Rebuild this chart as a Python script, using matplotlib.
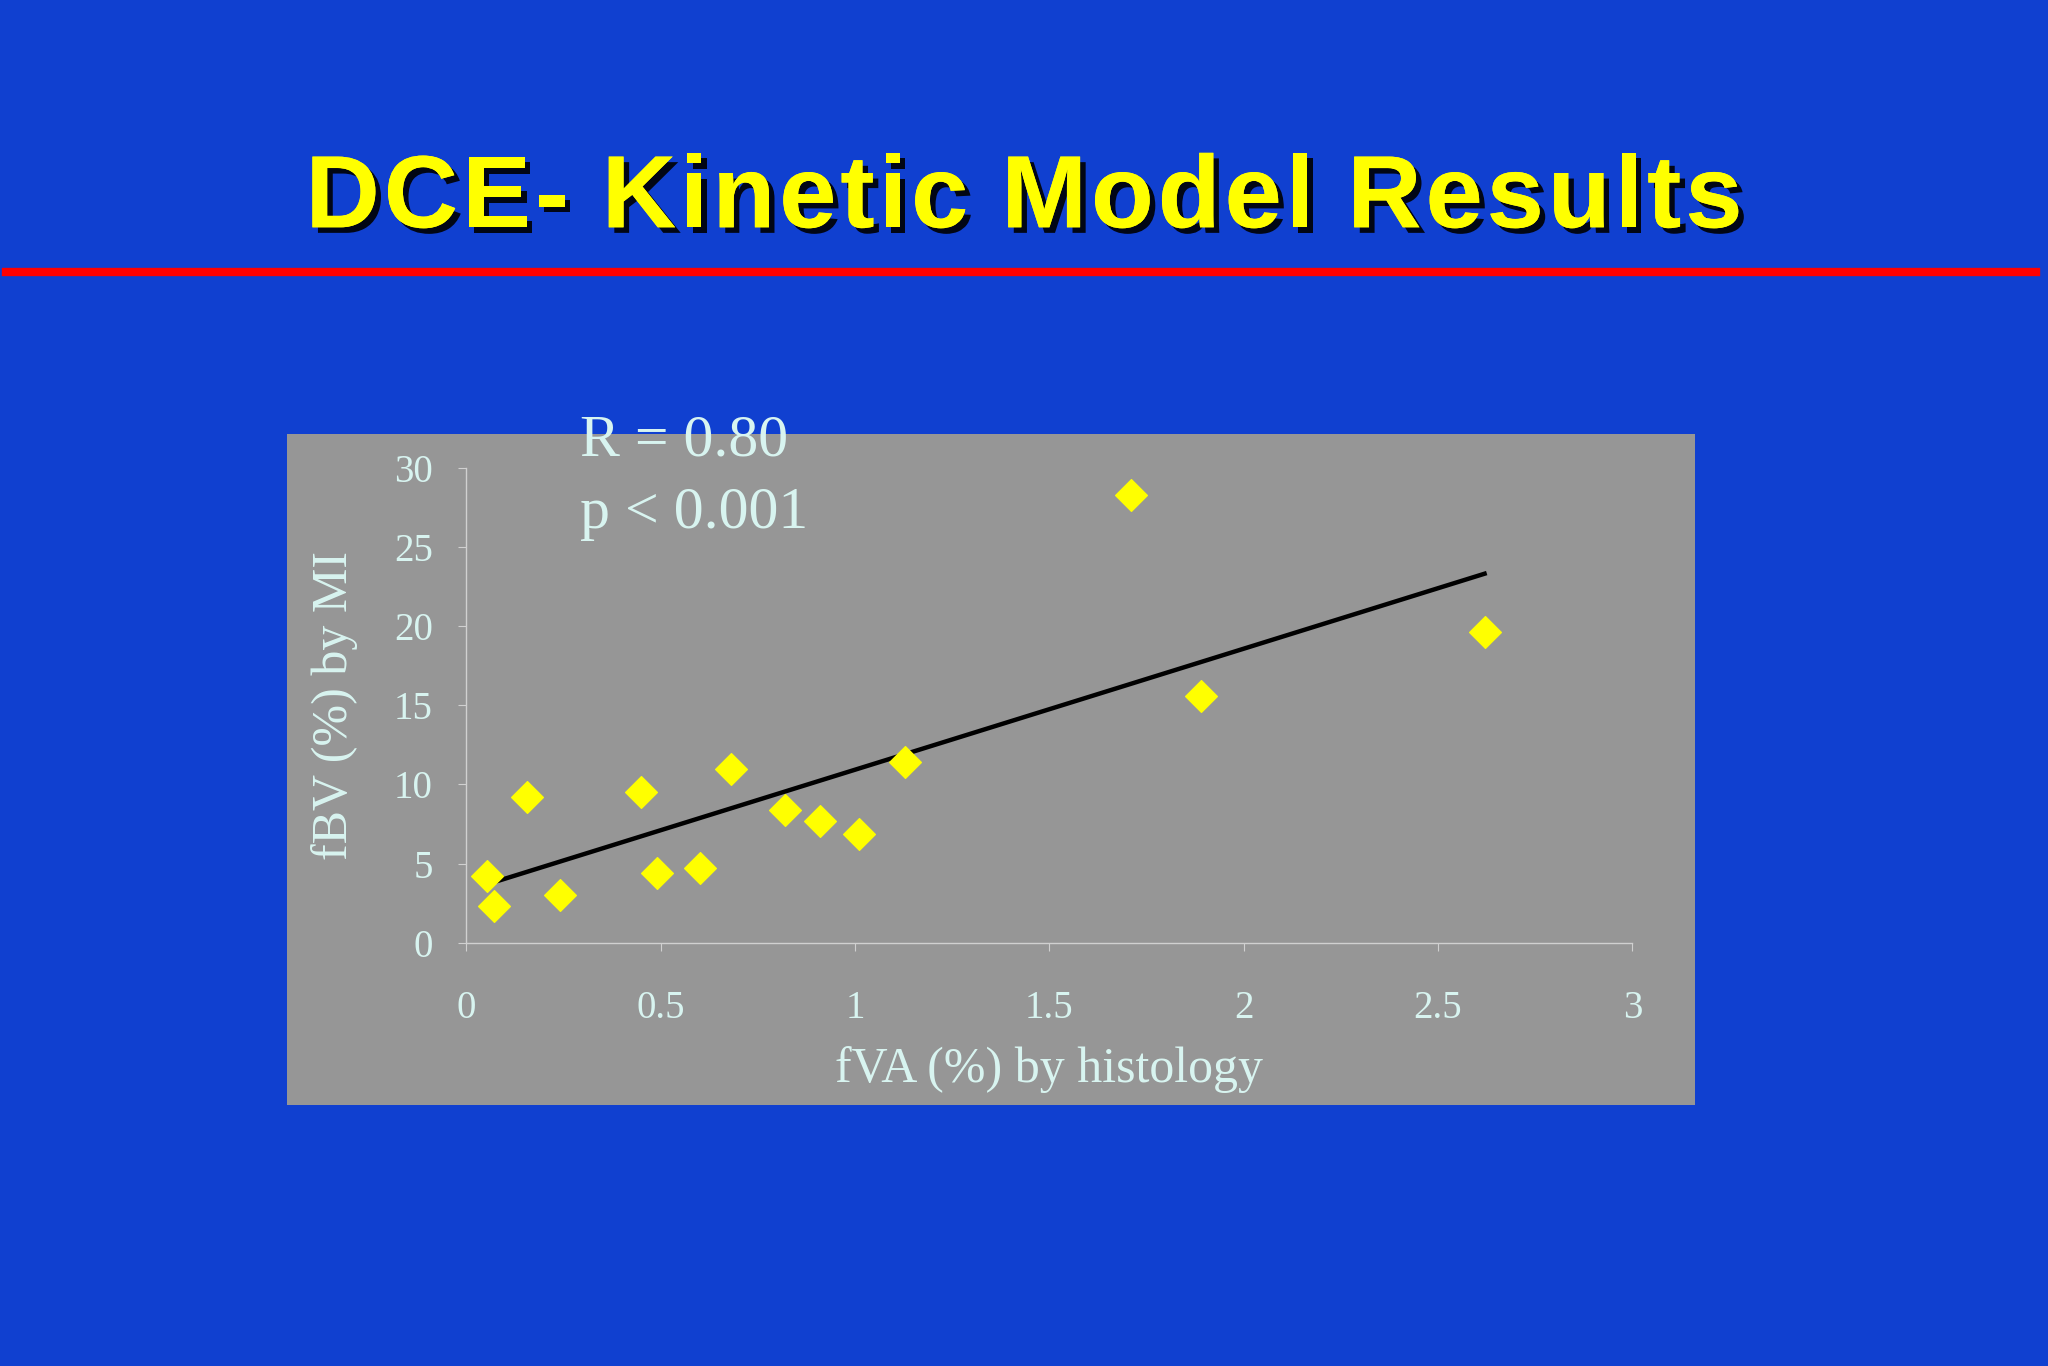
import matplotlib
matplotlib.use("Agg")
import matplotlib.pyplot as plt
import matplotlib.patheffects as pe
from matplotlib.patches import Rectangle

x_vals = [0.054, 0.07, 0.155, 0.24, 0.45, 0.49, 0.60, 0.68, 0.82, 0.91, 1.01, 1.13, 1.71, 1.89, 2.62]
y_vals = [4.2, 2.3, 9.2, 3.0, 9.5, 4.4, 4.7, 11.0, 8.4, 7.7, 6.9, 11.4, 28.3, 15.6, 19.6]
trend_x = [0.054, 2.62]
trend_y = [3.7, 23.3]
xticks = [0, 0.5, 1, 1.5, 2, 2.5, 3]
xtick_labels = ["0", "0.5", "1", "1.5", "2", "2.5", "3"]
yticks = [0, 5, 10, 15, 20, 25, 30]
title = "DCE- Kinetic Model Results"

BG = "#1040d0"
TXT = "#d8f4f0"
serif = ["Liberation Serif", "DejaVu Serif"]

fig = plt.figure(figsize=(20.48, 13.66), dpi=100, facecolor=BG)
renderer = fig.canvas.get_renderer()

tkw = dict(fontsize=74, fontweight="bold", family="Liberation Sans", color="#ffff00",
           path_effects=[pe.withSimplePatchShadow(offset=(4, -4), shadow_rgbFace="black", alpha=0.9), pe.Normal()])
W = fig.bbox.width
spacing = 4.0  # px
widths = []
for ch in title:
    t = fig.text(0, 0, ch if ch != " " else "n", **tkw)
    w = t.get_window_extent(renderer).width
    if ch == " ":
        w *= 0.4
    widths.append(w)
    t.remove()
total = sum(widths) + spacing * (len(title) - 1)
xpos = (W - total) / 2
for ch, w in zip(title, widths):
    if ch != " ":
        fig.text(xpos / W, 0.853, ch, ha="left", va="center", **tkw)
    xpos += w + spacing

fig.add_artist(plt.Line2D([0.003, 0.994], [0.801, 0.801], color="#ff0000", lw=6, transform=fig.transFigure))
fig.add_artist(Rectangle((0.1403, 0.1912), 0.6875, 0.4914, transform=fig.transFigure,
                         facecolor="#969696", edgecolor="none", zorder=0))

ax = fig.add_axes([0.2277, 0.3098, 0.5693, 0.3479])
ax.set_facecolor("none")
ax.scatter(x_vals, y_vals, marker="D", s=260, color="#ffff00", zorder=3, clip_on=False)
ax.plot(trend_x, trend_y, color="black", lw=3.2, zorder=2)
ax.set_xlim(0, 3)
ax.set_ylim(0, 30)
ax.set_xticks(xticks)
ax.set_xticklabels(xtick_labels)
ax.set_yticks(yticks)
for s in ["top", "right"]:
    ax.spines[s].set_visible(False)
for s in ["left", "bottom"]:
    ax.spines[s].set_color("#d0d0d0")
    ax.spines[s].set_linewidth(1)
ax.tick_params(colors="#d0d0d0", labelcolor=TXT, labelsize=28, length=6, direction="out")
for lab in ax.get_xticklabels() + ax.get_yticklabels():
    lab.set_family(serif)
ax.tick_params(axis="x", pad=28)
ax.tick_params(axis="y", pad=18)
ax.set_xlabel("fVA (%) by histology", fontsize=36, color=TXT, family=serif, labelpad=14)
ax.set_ylabel("fBV (%) by MI", fontsize=36, color=TXT, family=serif, labelpad=26)
fig.text(0.283, 0.677, "R = 0.80", fontsize=43, color=TXT, family=serif, va="center")
fig.text(0.283, 0.624, "p < 0.001", fontsize=43, color=TXT, family=serif, va="center")

fig.savefig("out.png", dpi=100, facecolor=BG)
